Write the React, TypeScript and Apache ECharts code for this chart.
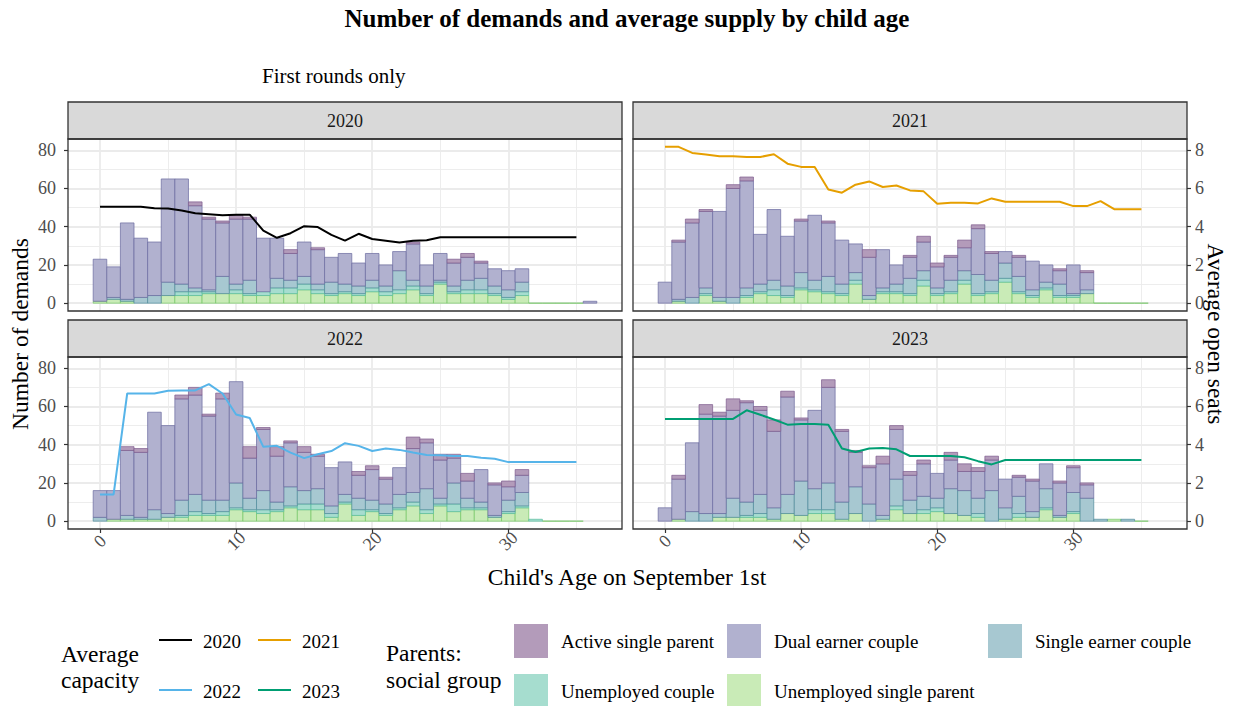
import React, { useEffect, useRef } from "react";
import * as echarts from "echarts";

const FONT = '"Liberation Serif", "Times New Roman", serif';

const ages = [0,1,2,3,4,5,6,7,8,9,10,11,12,13,14,15,16,17,18,19,20,21,22,23,24,25,26,27,28,29,30,31,32,33,34,35,36];
const lineAges = [0,1,2,3,4,5,6,7,8,9,10,11,12,13,14,15,16,17,18,19,20,21,22,23,24,25,26,27,28,29,30,31,32,33,34,35];

const xMajorTicks = [0, 10, 20, 30];
const xMinorTicks = [5, 15, 25, 35];
const yMajorTicks = [0, 20, 40, 60, 80];
const yMinorTicks = [10, 30, 50, 70];
const seatTicks = [0, 2, 4, 6, 8];

// 2020
const active2020 = [0,0,0,0,0,0,0,2,1,1,2,1,0,0,2,0,1,0,0,0,0,0,0,1,0,0,2,2,1,0,0,0,0,0,0,0,0];
const dual2020 = [22,16,40,31,28,54,55,43,37,28,34,32,28,21,14,18,18,13,16,12,14,11,10,19,11,14,12,12,8,9,10,7,0,0,0,0,1];
const singleEarner2020 = [0,1,1,3,4,7,4,2,1,9,3,7,0,5,4,4,3,6,4,4,4,3,10,3,4,1,3,5,6,4,4,5,0,0,0,0,0];
const unempCouple2020 = [0,0,0,0,0,0,2,2,1,0,2,1,2,3,3,3,2,1,1,1,2,2,2,2,1,1,1,2,2,1,1,2,0,0,0,0,0];
const unempSingle2020 = [1,2,1,0,0,4,4,4,5,5,5,4,4,5,5,7,5,4,5,4,6,4,5,7,4,10,5,5,5,4,2,4,0,0,0,0,0];
const seats2020 = [5.05,5.05,5.05,5.05,4.97,4.95,4.85,4.7,4.65,4.6,4.63,4.63,3.8,3.42,3.66,4.03,3.98,3.57,3.27,3.63,3.36,3.27,3.17,3.27,3.29,3.45,3.45,3.45,3.45,3.45,3.45,3.45,3.45,3.45,3.45,3.45];

// 2021
const active2021 = [0,1,2,1,0,2,2,0,0,0,1,0,1,0,0,4,0,0,1,3,2,1,4,2,1,0,1,0,0,1,0,1,0,0,0,0,0];
const dual2021 = [11,30,39,40,45,57,56,26,37,26,27,34,28,23,15,20,20,10,11,15,11,12,12,24,14,6,10,15,9,7,15,9,0,0,0,0,0];
const singleEarner2021 = [0,1,3,3,2,3,4,4,5,5,8,5,8,5,4,2,2,4,8,5,3,6,5,10,6,8,8,3,3,6,1,2,0,0,0,0,0];
const unempCouple2021 = [0,0,0,1,0,0,1,1,3,1,1,1,1,1,2,0,1,1,1,3,1,1,2,1,1,2,1,1,1,1,1,0,0,0,0,0,0];
const unempSingle2021 = [0,1,0,4,1,0,3,5,4,3,7,6,5,4,10,2,5,5,4,9,4,5,10,4,5,11,5,3,7,3,3,5,0,0,0,0,0];
const seats2021 = [8.18,8.18,7.86,7.78,7.69,7.69,7.65,7.65,7.79,7.3,7.13,7.13,5.95,5.78,6.2,6.37,6.08,6.16,5.9,5.85,5.2,5.25,5.25,5.22,5.48,5.31,5.31,5.31,5.31,5.31,5.08,5.08,5.34,4.92,4.92,4.92];

// 2022
const active2022 = [0,0,2,2,0,0,2,4,1,3,0,6,1,5,1,3,1,0,0,2,2,1,0,6,2,3,2,4,0,1,3,3,0,0,0,0,0];
const dual2022 = [14,15,34,34,51,46,53,52,44,53,53,21,32,24,23,20,17,20,17,12,16,13,14,23,24,20,13,9,17,16,7,9,0,0,0,0,0];
const singleEarner2022 = [2,0,2,1,5,2,8,9,7,6,13,6,10,4,10,7,8,4,4,6,5,5,7,5,11,3,11,5,3,1,6,7,0,0,0,0,0];
const unempCouple2022 = [0,0,0,0,0,0,1,2,1,2,1,1,2,1,1,3,3,2,1,3,1,1,1,2,2,1,4,1,1,0,1,1,1,0,0,0,0];
const unempSingle2022 = [0,1,1,1,1,2,2,3,3,3,6,5,4,5,7,6,6,2,9,3,5,3,6,8,4,8,5,6,6,2,4,7,0,0,0,0,0];
const seats2022 = [1.4,1.4,6.68,6.68,6.68,6.82,6.84,6.84,7.17,6.68,5.58,5.4,3.89,3.94,3.59,3.3,3.5,3.67,4.08,3.94,3.67,3.8,3.73,3.59,3.46,3.45,3.41,3.41,3.32,3.27,3.09,3.09,3.09,3.09,3.09,3.09];

// 2023
const active2023 = [0,2,0,5,2,6,1,2,6,3,1,0,4,1,1,1,4,2,2,2,0,4,4,2,2,0,1,1,0,1,1,1,0,0,0,0,0];
const dual2023 = [7,21,36,52,51,46,52,44,40,51,32,41,50,37,18,19,27,26,13,17,13,15,10,14,16,15,10,16,13,17,13,7,0,0,0,0,0];
const singleEarner2023 = [0,0,5,4,2,10,7,10,6,10,18,11,14,9,14,9,2,14,7,7,5,13,13,8,16,6,9,3,10,1,10,12,1,0,1,0,0];
const unempCouple2023 = [0,0,0,0,0,0,1,2,0,0,0,2,2,0,0,0,0,2,0,2,2,0,0,2,0,0,2,0,1,0,1,0,0,0,0,0,0];
const unempSingle2023 = [0,1,0,0,2,2,2,2,1,4,3,4,4,1,4,0,1,6,4,4,5,4,3,2,0,1,2,2,6,2,4,0,0,1,0,0,0];
const seats2023 = [5.35,5.35,5.35,5.35,5.35,5.35,5.8,5.57,5.32,5.05,5.09,5.09,5.05,3.8,3.62,3.8,3.83,3.76,3.41,3.41,3.41,3.41,3.34,3.14,2.97,3.2,3.2,3.2,3.2,3.2,3.2,3.2,3.2,3.2,3.2,3.2];

const years = ["2020", "2021", "2022", "2023"];
const lineColors = ["#000000", "#E69F00", "#56B4E9", "#009E73"];

// stacking order bottom -> top
const groupNames = ["Unemployed single parent", "Unemployed couple", "Single earner couple", "Dual earner couple", "Active single parent"];
const groupFills = ["#c9ebb7", "#a6ddcf", "#a7c8d1", "#b1b1cf", "#b39bba"];
const groupBorders = ["#74c766", "#57bd9f", "#4f8b9b", "#6a6a9f", "#7c5a8d"];

const facetStacks = [
  [unempSingle2020, unempCouple2020, singleEarner2020, dual2020, active2020],
  [unempSingle2021, unempCouple2021, singleEarner2021, dual2021, active2021],
  [unempSingle2022, unempCouple2022, singleEarner2022, dual2022, active2022],
  [unempSingle2023, unempCouple2023, singleEarner2023, dual2023, active2023],
];
const facetSeats = [seats2020, seats2021, seats2022, seats2023];

// layout
const panels = [
  { left: 68, top: 139 },
  { left: 633, top: 139 },
  { left: 68, top: 357 },
  { left: 633, top: 357 },
];
const PW = 554;
const PH = 172;
const STRIP_H = 37;
const XMIN = -2.35, XMAX = 38.35;
const YMIN = -4.1, YMAX = 85.9;

function txt(text: string, x: number, y: number, size: number, o: any = {}) {
  const align = o.align || "left";
  return {
    type: "text",
    x, y,
    rotation: o.rotation || 0,
    z: 100,
    silent: true,
    style: {
      text,
      fill: o.color || "#000000",
      font: `${o.bold ? "bold " : ""}${size}px ${FONT}`,
      align,
      verticalAlign: "middle",
      textAlign: align,
      textVerticalAlign: "middle",
    },
  };
}

function makeRenderItem(fill: string, stroke: string) {
  return function (params: any, api: any) {
    const age = api.value(0);
    const lo = api.value(1);
    const hi = api.value(2);
    const p0 = api.coord([age - 0.5, lo]);
    const p1 = api.coord([age + 0.5, hi]);
    return {
      type: "rect",
      shape: { x: p0[0], y: p1[1], width: p1[0] - p0[0], height: p0[1] - p1[1] },
      style: { fill, stroke, lineWidth: 0.7 },
    };
  };
}

function buildOption() {
  const grid: any[] = [];
  const xAxis: any[] = [];
  const yAxis: any[] = [];
  const series: any[] = [];
  const graphic: any[] = [];

  const tickLine = { color: "#333333", width: 1.2 };
  const labelBase = { color: "#4d4d4d", fontSize: 18, fontFamily: FONT };
  const majorSplit = { show: true, lineStyle: { color: "#ebebeb", width: 1.8 } };
  const minorSplit = { show: true, lineStyle: { color: "#ebebeb", width: 0.9 } };

  panels.forEach((p, g) => {
    const bottomRow = g >= 2;
    const leftCol = g % 2 === 0;
    grid.push({ left: p.left, top: p.top, width: PW, height: PH, show: false, containLabel: false });

    xAxis.push({
      gridIndex: g, type: "value", min: XMIN, max: XMAX, position: "bottom",
      axisLine: { show: false, onZero: false },
      axisTick: { show: bottomRow, customValues: xMajorTicks, length: 4, lineStyle: tickLine },
      axisLabel: { show: bottomRow, customValues: xMajorTicks, rotate: 45, margin: 12, align: "center", verticalAlign: "middle", ...labelBase },
      splitLine: majorSplit,
    });
    xAxis.push({
      gridIndex: g, type: "value", min: XMIN, max: XMAX, position: "top",
      axisLine: { show: false, onZero: false },
      axisTick: { show: false, customValues: xMinorTicks },
      axisLabel: { show: false, customValues: xMinorTicks },
      splitLine: minorSplit,
    });

    yAxis.push({
      gridIndex: g, type: "value", min: YMIN, max: YMAX, position: "left",
      axisLine: { show: false, onZero: false },
      axisTick: { show: leftCol, customValues: yMajorTicks, length: 4, lineStyle: tickLine },
      axisLabel: { show: leftCol, customValues: yMajorTicks, margin: 12, ...labelBase },
      splitLine: majorSplit,
    });
    yAxis.push({
      gridIndex: g, type: "value", min: YMIN / 10, max: YMAX / 10, position: "right",
      axisLine: { show: false, onZero: false },
      axisTick: { show: !leftCol, customValues: seatTicks, length: 4, lineStyle: tickLine },
      axisLabel: { show: !leftCol, customValues: seatTicks, margin: 8, ...labelBase },
      splitLine: { show: false },
    });
    yAxis.push({
      gridIndex: g, type: "value", min: YMIN, max: YMAX, position: "left",
      axisLine: { show: false, onZero: false },
      axisTick: { show: false, customValues: yMinorTicks },
      axisLabel: { show: false, customValues: yMinorTicks },
      splitLine: minorSplit,
    });

    // stacked segments: cumulative lower/upper bounds per age
    const stacks = facetStacks[g];
    const totals = ages.map((_, i) => stacks.reduce((s, arr) => s + arr[i], 0));
    const cum = ages.map(() => 0);
    stacks.forEach((vals, k) => {
      const data: any[] = [];
      ages.forEach((a, i) => {
        const lo = cum[i];
        const hi = lo + vals[i];
        cum[i] = hi;
        const emptyTail = k === 0 && totals[i] === 0 && a >= 32 && a <= 35;
        if (vals[i] > 0 || emptyTail) data.push([a, lo, hi]);
      });
      series.push({
        type: "custom",
        name: groupNames[k],
        xAxisIndex: 2 * g,
        yAxisIndex: 3 * g,
        z: 2,
        silent: true,
        encode: { x: 0, y: [1, 2] },
        renderItem: makeRenderItem(groupFills[k], groupBorders[k]),
        data,
      });
    });
    series.push({
      type: "line",
      name: years[g],
      xAxisIndex: 2 * g,
      yAxisIndex: 3 * g + 1,
      z: 5,
      symbol: "none",
      silent: true,
      data: lineAges.map((a, i) => [a, facetSeats[g][i]]),
      lineStyle: { color: lineColors[g], width: 2 },
    });

    // strip
    graphic.push({
      type: "rect", z: 99, silent: true,
      shape: { x: p.left, y: p.top - STRIP_H, width: PW, height: STRIP_H },
      style: { fill: "#d9d9d9", stroke: "#333333", lineWidth: 1.3 },
    });
    graphic.push(txt(years[g], p.left + PW / 2, p.top - STRIP_H / 2, 18, { align: "center", color: "#1a1a1a" }));
    // panel border
    graphic.push({
      type: "rect", z: 99, silent: true,
      shape: { x: p.left, y: p.top, width: PW, height: PH },
      style: { fill: "none", stroke: "#333333", lineWidth: 1.3 },
    });
  });

  // titles
  graphic.push(txt("Number of demands and average supply by child age", 627, 18, 25, { align: "center", bold: true }));
  graphic.push(txt("First rounds only", 262, 76, 21));
  graphic.push(txt("Number of demands", 20, 334, 23.5, { align: "center", rotation: Math.PI / 2 }));
  graphic.push(txt("Average open seats", 1216, 334, 23.5, { align: "center", rotation: -Math.PI / 2 }));
  graphic.push(txt("Child's Age on September 1st", 627, 577, 23.5, { align: "center" }));

  // legend: average capacity
  graphic.push(txt("Average", 61, 654, 23.5));
  graphic.push(txt("capacity", 61, 680, 23.5));
  const lineKeys = [
    { x: 159, y: 640, label: "2020", c: 0 },
    { x: 258, y: 640, label: "2021", c: 1 },
    { x: 159, y: 690, label: "2022", c: 2 },
    { x: 258, y: 690, label: "2023", c: 3 },
  ];
  lineKeys.forEach((k) => {
    graphic.push({
      type: "line", z: 100, silent: true,
      shape: { x1: k.x, y1: k.y, x2: k.x + 33, y2: k.y },
      style: { stroke: lineColors[k.c], lineWidth: 2 },
    });
    graphic.push(txt(k.label, k.x + 44, k.y + 1, 19));
  });

  // legend: social group
  graphic.push(txt("Parents:", 386, 653, 23.5));
  graphic.push(txt("social group", 386, 680, 23.5));
  const fillKeys = [
    { x: 514, y: 624, g: 4 },
    { x: 727, y: 624, g: 3 },
    { x: 988, y: 624, g: 2 },
    { x: 514, y: 674, g: 1 },
    { x: 727, y: 674, g: 0 },
  ];
  fillKeys.forEach((k) => {
    graphic.push({
      type: "rect", z: 100, silent: true,
      shape: { x: k.x, y: k.y, width: 34, height: 34 },
      style: { fill: groupFills[k.g] },
    });
    graphic.push(txt(groupNames[k.g], k.x + 47, k.y + 17, 19));
  });

  return {
    animation: false,
    backgroundColor: "#ffffff",
    textStyle: { fontFamily: FONT },
    grid, xAxis, yAxis, series, graphic,
  };
}

export default function App() {
  const ref = useRef<HTMLDivElement>(null);
  useEffect(() => {
    if (!ref.current) return;
    const chart = echarts.init(ref.current, null, { renderer: "svg" });
    chart.setOption(buildOption() as any);
    return () => chart.dispose();
  }, []);
  return (
    <div
      ref={ref}
      style={{ position: "fixed", left: 0, top: 0, width: 1236, height: 706, background: "#ffffff" }}
    />
  );
}
